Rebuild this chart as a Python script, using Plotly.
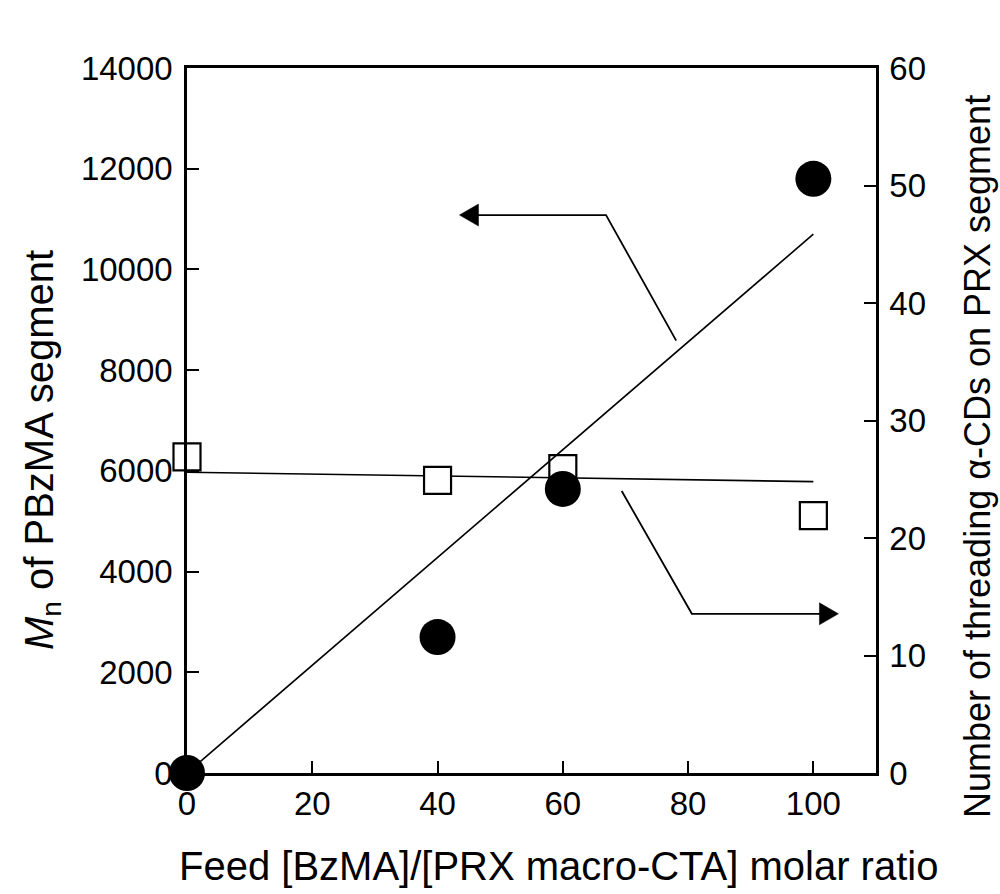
import plotly.graph_objects as go

# Data
feed_ratio = [0, 40, 60, 100]
mn_pbzma = [0, 2700, 5640, 11800]
threading_cd = [26.9, 24.9, 25.9, 21.9]

fit_x = [0, 100]
mn_fit = [0, 10700]
threading_fit = [25.6, 24.8]

x_ticks = [0, 20, 40, 60, 80, 100]
y_left_ticks = [0, 2000, 4000, 6000, 8000, 10000, 12000, 14000]
y_right_ticks = [0, 10, 20, 30, 40, 50, 60]

FONT = "Liberation Sans, Arial, sans-serif"
BLACK = "#000000"

fig = go.Figure()

# Threading (right axis) -> primary 'y' so Mn markers are drawn on top
fig.add_trace(go.Scatter(x=fit_x, y=threading_fit, mode="lines",
                         line=dict(color=BLACK, width=1.6), yaxis="y",
                         showlegend=False, hoverinfo="skip"))
fig.add_trace(go.Scatter(x=feed_ratio, y=threading_cd, mode="markers",
                         marker=dict(symbol="square", size=27, color="white",
                                     line=dict(color=BLACK, width=2.2)),
                         yaxis="y", cliponaxis=False, showlegend=False))
# Mn (left axis)
fig.add_trace(go.Scatter(x=fit_x, y=mn_fit, mode="lines",
                         line=dict(color=BLACK, width=1.6), yaxis="y2",
                         showlegend=False, hoverinfo="skip"))
fig.add_trace(go.Scatter(x=feed_ratio, y=mn_pbzma, mode="markers",
                         marker=dict(symbol="circle", size=36, color=BLACK,
                                     line=dict(width=0)),
                         yaxis="y2", cliponaxis=False, showlegend=False))

shapes = []
# Upper arrow (points to left axis)
shapes.append(dict(type="path", xref="x", yref="y2",
                   path="M 78.1,8585 L 66.9,11080 L 46.0,11080",
                   line=dict(color=BLACK, width=1.8)))
shapes.append(dict(type="path", xref="x", yref="y2",
                   xsizemode="pixel", ysizemode="pixel",
                   xanchor=43.5, yanchor=11080,
                   path="M 0,0 L 19,11 L 19,-11 Z",
                   fillcolor=BLACK, line=dict(color=BLACK, width=0.5)))
# Lower arrow (points to right axis)
shapes.append(dict(type="path", xref="x", yref="y",
                   path="M 69.4,24.0 L 80.6,13.55 L 101.5,13.55",
                   line=dict(color=BLACK, width=1.8)))
shapes.append(dict(type="path", xref="x", yref="y",
                   xsizemode="pixel", ysizemode="pixel",
                   xanchor=104.0, yanchor=13.55,
                   path="M 0,0 L -19,11 L -19,-11 Z",
                   fillcolor=BLACK, line=dict(color=BLACK, width=0.5)))

tickfont = dict(family=FONT, size=33, color=BLACK)
titlefont = dict(family=FONT, size=40, color=BLACK)
rtitlefont = dict(family=FONT, size=36, color=BLACK)

annotations = [
    dict(text="Feed [BzMA]/[PRX macro-CTA] molar ratio", xref="paper", yref="paper",
         x=(558 - 187) / 689, y=(773 - 866) / 705, xanchor="center", yanchor="middle",
         showarrow=False, font=titlefont),
    dict(text="<i>M</i><sub>n</sub> of PBzMA segment", xref="paper", yref="paper",
         x=(42 - 187) / 689, y=(773 - 450) / 705, xanchor="center", yanchor="middle",
         textangle=-90, showarrow=False, font=titlefont),
    dict(text="Number of threading α-CDs on PRX segment", xref="paper", yref="paper",
         x=(977 - 187) / 689, y=(773 - 457) / 705, xanchor="center", yanchor="middle",
         textangle=-90, showarrow=False, font=rtitlefont),
]

fig.update_layout(
    width=1000, height=894,
    margin=dict(l=187, r=124, t=68, b=121),
    paper_bgcolor="white", plot_bgcolor="white",
    showlegend=False,
    shapes=shapes,
    annotations=annotations,
    xaxis=dict(range=[0, 110], tickvals=x_ticks, ticks="inside", ticklen=12,
               tickwidth=2, tickcolor=BLACK, showline=True, linecolor=BLACK,
               linewidth=2.5, mirror=True, showgrid=False, zeroline=False,
               tickfont=tickfont, tickformat="d"),
    yaxis=dict(range=[0, 60], tickvals=y_right_ticks, side="right", ticks="inside",
               ticklen=12, tickwidth=2, tickcolor=BLACK, showline=True,
               linecolor=BLACK, linewidth=2.5, showgrid=False, zeroline=False,
               tickfont=tickfont, ticklabelstandoff=4, tickformat="d"),
    yaxis2=dict(range=[0, 14000], tickvals=y_left_ticks, side="left",
                overlaying="y", ticks="inside", ticklen=12, tickwidth=2,
                tickcolor=BLACK, showline=True, linecolor=BLACK, linewidth=2.5,
                showgrid=False, zeroline=False, tickfont=tickfont,
                tickformat="d", ticklabelstandoff=5),
)

fig.write_html("out.html",
               config={"displayModeBar": False},
               post_script="document.body.style.margin='0px';"
                           "document.body.style.overflow='hidden';")
